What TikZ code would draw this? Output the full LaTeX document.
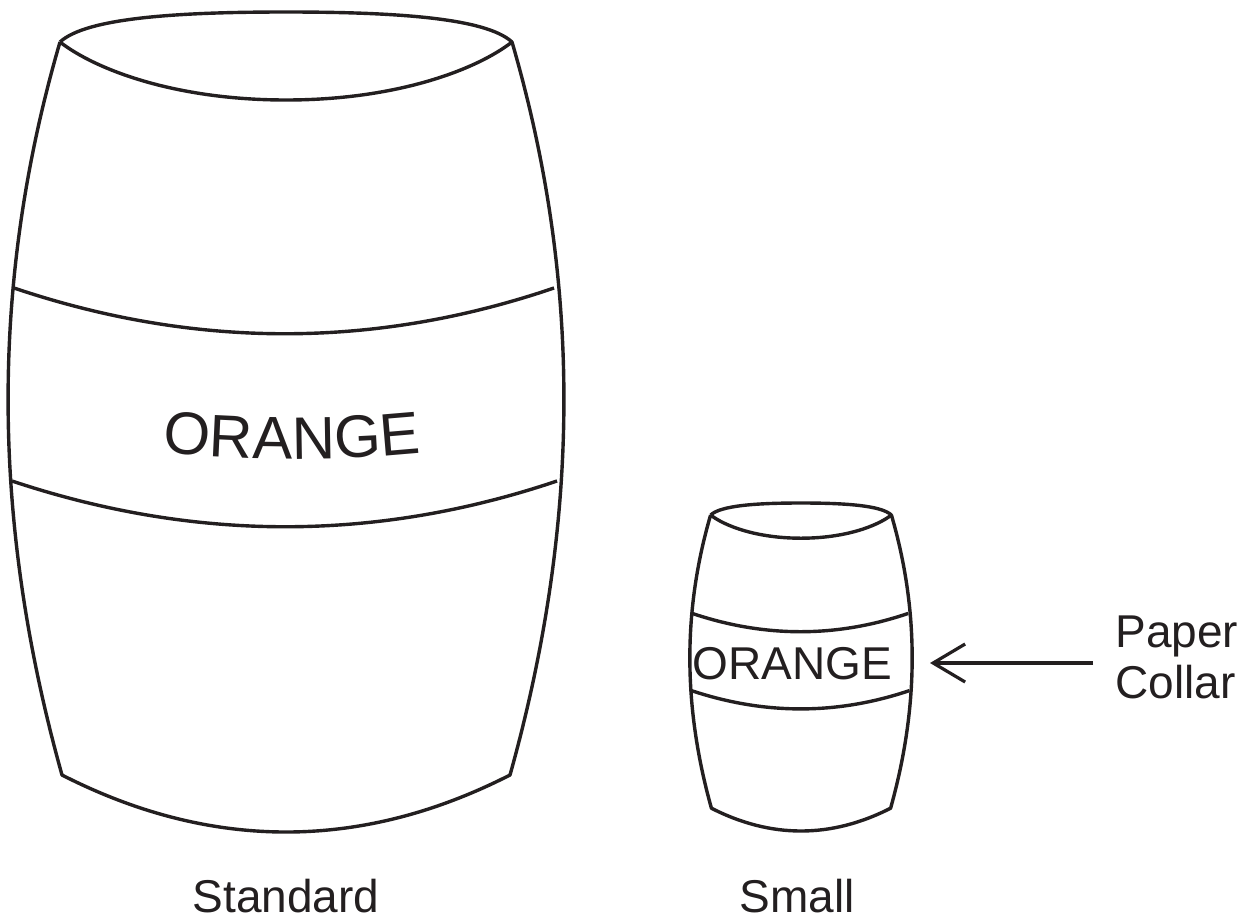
\documentclass[tikz,border=0pt]{standalone}
\usepackage{fontspec}
\setmainfont{Liberation Sans}
\usetikzlibrary{arrows.meta, decorations.text, positioning}

\definecolor{ink}{RGB}{35,31,32}

\tikzset{
    outline/.style={draw=ink, line width=1.7pt, line join=round},
    caption/.style={text=ink, font=\fontsize{23}{25}\selectfont, anchor=base, inner sep=0pt},
    pointer/.style={draw=ink, line width=1.6pt, -{Straight Barb[length=16pt, width=19pt]}},
    % a barrel cup, axis at x=0, top of the lid at y=0
    barrel/.pic={
        % lid
        \draw[outline] (-226,30) .. controls (-200,6) and (-110,0) .. (0,0)
            .. controls (110,0) and (200,6) .. (226,30)
            .. controls (190,58) and (110,88) .. (0,88)
            .. controls (-110,88) and (-190,58) .. (-226,30);
        % body: left side, bottom rim, right side
        \draw[outline] (-226,30) .. controls (-298,277) and (-293,516) .. (-224,763)
            .. controls (-75,839) and (75,839) .. (224,763)
            .. controls (293,516) and (298,277) .. (226,30);
        % collar edges
        \draw[outline] (-272,276) .. controls (-91,337) and (89,337) .. (268,276);
        \draw[outline] (-274,469) .. controls (-91,530) and (90,530) .. (271,469);
    }
}

\begin{document}
\begin{tikzpicture}[x=0.5pt, y=-0.5pt]

    \useasboundingbox (0,0) rectangle (1256,921);

    % =================================================================
    % STANDARD CUP
    % =================================================================
    \pic at (286,12) {barrel};
    \path[decorate, decoration={text along path, text align=center, text color=ink,
        text={|\fontsize{30}{36}\selectfont|ORANGE}}]
        (92,443.6) .. controls (225.3,464.1) and (358.7,464.1) .. (492,443.6);
    \node[caption] (standard) at (286,912) {Standard};

    % =================================================================
    % SMALL CUP
    % =================================================================
    \pic[scale=0.4] at (801,503) {barrel};
    \node[caption] (brand) at (792,679) {ORANGE};
    \node[caption] (small) at (797,912) {Small};

    % label with arrow
    \node[text=ink, font=\fontsize{23}{25.5}\selectfont, align=left,
        anchor=west, inner xsep=11pt] (collar) at (1093,657) {Paper\\Collar};
    \coordinate (collartip) at (930,663);
    \draw[pointer] (collar.west |- collartip) -- (collartip);

\end{tikzpicture}
\end{document}
